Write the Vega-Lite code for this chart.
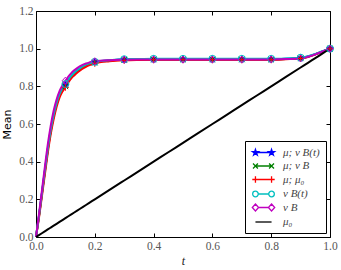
{
  "$schema": "https://vega.github.io/schema/vega-lite/v6.json",
  "width": 294,
  "height": 226,
  "autosize": {"type": "none"},
  "padding": {"left": 36, "top": 11, "right": 11, "bottom": 33},
  "background": "white",
  "config": {
    "view": {"stroke": "black", "strokeWidth": 1},
    "axis": {"domain": false, "grid": false, "tickColor": "black", "tickSize": -4, "tickWidth": 1, "labelFont": "Liberation Serif", "labelFontSize": 11.5, "labelColor": "#555", "labelPadding": 7, "labelFlush": false, "labelOverlap": false}
  },
  "data": {
    "values": [
      {"t": 0, "a": 0, "b": 0, "c": 0, "d": 0, "e": 0, "f": 0, "m": 0},
      {"t": 0.01, "a": 0.11, "b": 0.108, "c": 0.10, "d": 0.112, "e": 0.12, "f": 0.01, "m": 0},
      {"t": 0.02, "a": 0.23, "b": 0.226, "c": 0.215, "d": 0.232, "e": 0.245, "f": 0.02, "m": 0},
      {"t": 0.03, "a": 0.35, "b": 0.345, "c": 0.33, "d": 0.353, "e": 0.37, "f": 0.03, "m": 0},
      {"t": 0.04, "a": 0.465, "b": 0.46, "c": 0.445, "d": 0.468, "e": 0.49, "f": 0.04, "m": 0},
      {"t": 0.05, "a": 0.565, "b": 0.56, "c": 0.545, "d": 0.568, "e": 0.59, "f": 0.05, "m": 0},
      {"t": 0.06, "a": 0.645, "b": 0.64, "c": 0.625, "d": 0.648, "e": 0.67, "f": 0.06, "m": 0},
      {"t": 0.07, "a": 0.71, "b": 0.705, "c": 0.69, "d": 0.712, "e": 0.73, "f": 0.07, "m": 0},
      {"t": 0.08, "a": 0.755, "b": 0.75, "c": 0.74, "d": 0.758, "e": 0.775, "f": 0.08, "m": 0},
      {"t": 0.09, "a": 0.785, "b": 0.782, "c": 0.772, "d": 0.79, "e": 0.805, "f": 0.09, "m": 0},
      {"t": 0.1, "a": 0.805, "b": 0.8, "c": 0.795, "d": 0.812, "e": 0.83, "f": 0.1, "m": 1},
      {"t": 0.11, "a": 0.832, "b": 0.828, "c": 0.82, "d": 0.836, "e": 0.852, "f": 0.11, "m": 0},
      {"t": 0.12, "a": 0.853, "b": 0.849, "c": 0.842, "d": 0.856, "e": 0.87, "f": 0.12, "m": 0},
      {"t": 0.13, "a": 0.87, "b": 0.866, "c": 0.858, "d": 0.872, "e": 0.885, "f": 0.13, "m": 0},
      {"t": 0.14, "a": 0.884, "b": 0.881, "c": 0.872, "d": 0.886, "e": 0.897, "f": 0.14, "m": 0},
      {"t": 0.15, "a": 0.895, "b": 0.892, "c": 0.884, "d": 0.897, "e": 0.907, "f": 0.15, "m": 0},
      {"t": 0.16, "a": 0.905, "b": 0.902, "c": 0.895, "d": 0.907, "e": 0.915, "f": 0.16, "m": 0},
      {"t": 0.17, "a": 0.913, "b": 0.91, "c": 0.904, "d": 0.915, "e": 0.921, "f": 0.17, "m": 0},
      {"t": 0.18, "a": 0.919, "b": 0.917, "c": 0.911, "d": 0.921, "e": 0.926, "f": 0.18, "m": 0},
      {"t": 0.19, "a": 0.924, "b": 0.922, "c": 0.917, "d": 0.926, "e": 0.93, "f": 0.19, "m": 0},
      {"t": 0.2, "a": 0.928, "b": 0.926, "c": 0.922, "d": 0.93, "e": 0.933, "f": 0.2, "m": 1},
      {"t": 0.25, "a": 0.937, "b": 0.936, "c": 0.933, "d": 0.939, "e": 0.939, "f": 0.25, "m": 0},
      {"t": 0.3, "a": 0.942, "b": 0.941, "c": 0.938, "d": 0.944, "e": 0.941, "f": 0.3, "m": 1},
      {"t": 0.35, "a": 0.943, "b": 0.942, "c": 0.94, "d": 0.945, "e": 0.942, "f": 0.35, "m": 0},
      {"t": 0.4, "a": 0.944, "b": 0.943, "c": 0.941, "d": 0.946, "e": 0.942, "f": 0.4, "m": 1},
      {"t": 0.45, "a": 0.944, "b": 0.943, "c": 0.941, "d": 0.946, "e": 0.942, "f": 0.45, "m": 0},
      {"t": 0.5, "a": 0.944, "b": 0.943, "c": 0.941, "d": 0.946, "e": 0.942, "f": 0.5, "m": 1},
      {"t": 0.55, "a": 0.944, "b": 0.943, "c": 0.941, "d": 0.946, "e": 0.942, "f": 0.55, "m": 0},
      {"t": 0.6, "a": 0.944, "b": 0.943, "c": 0.941, "d": 0.946, "e": 0.942, "f": 0.6, "m": 1},
      {"t": 0.65, "a": 0.944, "b": 0.943, "c": 0.941, "d": 0.946, "e": 0.942, "f": 0.65, "m": 0},
      {"t": 0.7, "a": 0.944, "b": 0.943, "c": 0.941, "d": 0.946, "e": 0.942, "f": 0.7, "m": 1},
      {"t": 0.75, "a": 0.944, "b": 0.943, "c": 0.941, "d": 0.946, "e": 0.942, "f": 0.75, "m": 0},
      {"t": 0.8, "a": 0.944, "b": 0.943, "c": 0.941, "d": 0.946, "e": 0.943, "f": 0.8, "m": 1},
      {"t": 0.85, "a": 0.946, "b": 0.945, "c": 0.944, "d": 0.948, "e": 0.945, "f": 0.85, "m": 0},
      {"t": 0.9, "a": 0.95, "b": 0.949, "c": 0.948, "d": 0.952, "e": 0.948, "f": 0.9, "m": 1},
      {"t": 0.925, "a": 0.958, "b": 0.957, "c": 0.956, "d": 0.96, "e": 0.957, "f": 0.925, "m": 0},
      {"t": 0.95, "a": 0.971, "b": 0.97, "c": 0.969, "d": 0.972, "e": 0.97, "f": 0.95, "m": 0},
      {"t": 0.975, "a": 0.986, "b": 0.985, "c": 0.984, "d": 0.987, "e": 0.985, "f": 0.975, "m": 0},
      {"t": 1.0, "a": 1.0, "b": 1.0, "c": 0.999, "d": 1.0, "e": 1.0, "f": 1.0, "m": 1}
    ]
  },
  "transform": [{"fold": ["a", "b", "c", "d", "e", "f"], "as": ["k", "v"]}],
  "resolve": {"axis": {"x": "independent", "y": "independent"}},
  "layer": [
    {
      "mark": {"type": "line", "strokeWidth": 2, "interpolate": "monotone"},
      "encoding": {
        "x": {
          "field": "t", "type": "quantitative",
          "scale": {"domain": [0, 1], "nice": false},
          "axis": {"orient": "bottom", "values": [0, 0.2, 0.4, 0.6, 0.8, 1.0], "format": ".1f", "title": "t", "titleFont": "Liberation Serif", "titleFontStyle": "italic", "titleFontWeight": "normal", "titleFontSize": 12, "titleColor": "#222", "titlePadding": 4}
        },
        "y": {
          "field": "v", "type": "quantitative",
          "scale": {"domain": [0, 1.2], "nice": false},
          "axis": {"orient": "left", "values": [0, 0.2, 0.4, 0.6, 0.8, 1.0, 1.2], "format": ".1f", "title": "Mean", "titleFont": "DejaVu Sans", "titleFontWeight": "normal", "titleFontSize": 11, "titleColor": "black", "titlePadding": 6}
        },
        "color": {
          "field": "k", "type": "nominal",
          "scale": {"domain": ["a", "b", "c", "d", "e", "f"], "range": ["#0000ff", "#008000", "#ff0000", "#00bfbf", "#bf00bf", "#000000"]},
          "legend": {
            "title": null, "orient": "bottom-right", "offset": 4, "padding": 6,
            "strokeColor": "black", "fillColor": "white", "cornerRadius": 0,
            "rowPadding": 1.5, "symbolSize": 49, "symbolOffset": 7, "labelOffset": 14,
            "symbolStrokeWidth": 1.3,
            "labelFont": "Liberation Serif", "labelFontStyle": "italic", "labelFontSize": 11, "labelColor": "#444",
            "labelExpr": "datum.value == 'a' ? 'μ; ν B(t)' : datum.value == 'b' ? 'μ; ν B' : datum.value == 'c' ? 'μ; μ₀' : datum.value == 'd' ? 'ν B(t)' : datum.value == 'e' ? 'ν B' : 'μ₀'",
            "encode": {
              "symbols": {
                "update": {
                  "shape": {"signal": "datum.value == 'a' ? 'M-2.3,0H2.3M-2.3,-0.9L-2.098,-0.278L-1.444,-0.278L-1.973,0.106L-1.771,0.728L-2.3,0.344L-2.829,0.728L-2.627,0.106L-3.156,-0.278L-2.502,-0.278ZM2.3,-0.9L2.502,-0.278L3.156,-0.278L2.627,0.106L2.829,0.728L2.3,0.344L1.771,0.728L1.973,0.106L1.444,-0.278L2.098,-0.278Z' : datum.value == 'b' ? 'M-2.3,0H2.3M-3.0,-0.7L-1.6,0.7M-3.0,0.7L-1.6,-0.7M1.6,-0.7L3.0,0.7M1.6,0.7L3.0,-0.7' : datum.value == 'c' ? 'M-3.2,0H3.2M-2.3,-0.9V0.9M2.3,-0.9V0.9' : datum.value == 'd' ? 'M-1.5,0H1.5M-1.5,0A0.8,0.8 0 1,0 -3.1,0A0.8,0.8 0 1,0 -1.5,0ZM3.1,0A0.8,0.8 0 1,0 1.5,0A0.8,0.8 0 1,0 3.1,0Z' : datum.value == 'e' ? 'M-1.4,0H1.4M-2.3,-1L-1.4,0L-2.3,1L-3.2,0ZM2.3,-1L3.2,0L2.3,1L1.4,0Z' : 'M-2.3,0H2.3'"},
                  "fill": {"signal": "datum.value == 'a' ? '#0000ff' : 'transparent'"}
                }
              }
            }
          }
        }
      }
    },
    {
      "transform": [{"filter": "datum.m == 1 && datum.k != 'f'"}],
      "mark": {"type": "point", "filled": false, "size": 49, "strokeWidth": 1, "opacity": 1},
      "encoding": {
        "x": {"field": "t", "type": "quantitative", "axis": {"orient": "top", "labels": false, "title": null, "values": [0, 0.2, 0.4, 0.6, 0.8, 1.0]}},
        "y": {"field": "v", "type": "quantitative", "axis": {"orient": "right", "labels": false, "title": null, "values": [0, 0.2, 0.4, 0.6, 0.8, 1.0, 1.2]}},
        "color": {"field": "k", "type": "nominal", "legend": null},
        "shape": {
          "field": "k", "type": "nominal", "legend": null,
          "scale": {"domain": ["a", "b", "c", "d", "e"], "range": ["M0,-1L0.225,-0.309L0.951,-0.309L0.363,0.118L0.588,0.809L0,0.382L-0.588,0.809L-0.363,0.118L-0.951,-0.309L-0.225,-0.309Z", "M-0.8,-0.8L0.8,0.8M-0.8,0.8L0.8,-0.8", "M-1,0H1M0,-1V1", "circle", "M0,-1L0.9,0L0,1L-0.9,0Z"]}
        },
        "fill": {"condition": {"test": "datum.k == 'a'", "value": "#0000ff"}, "value": "transparent"}
      }
    }
  ]
}
